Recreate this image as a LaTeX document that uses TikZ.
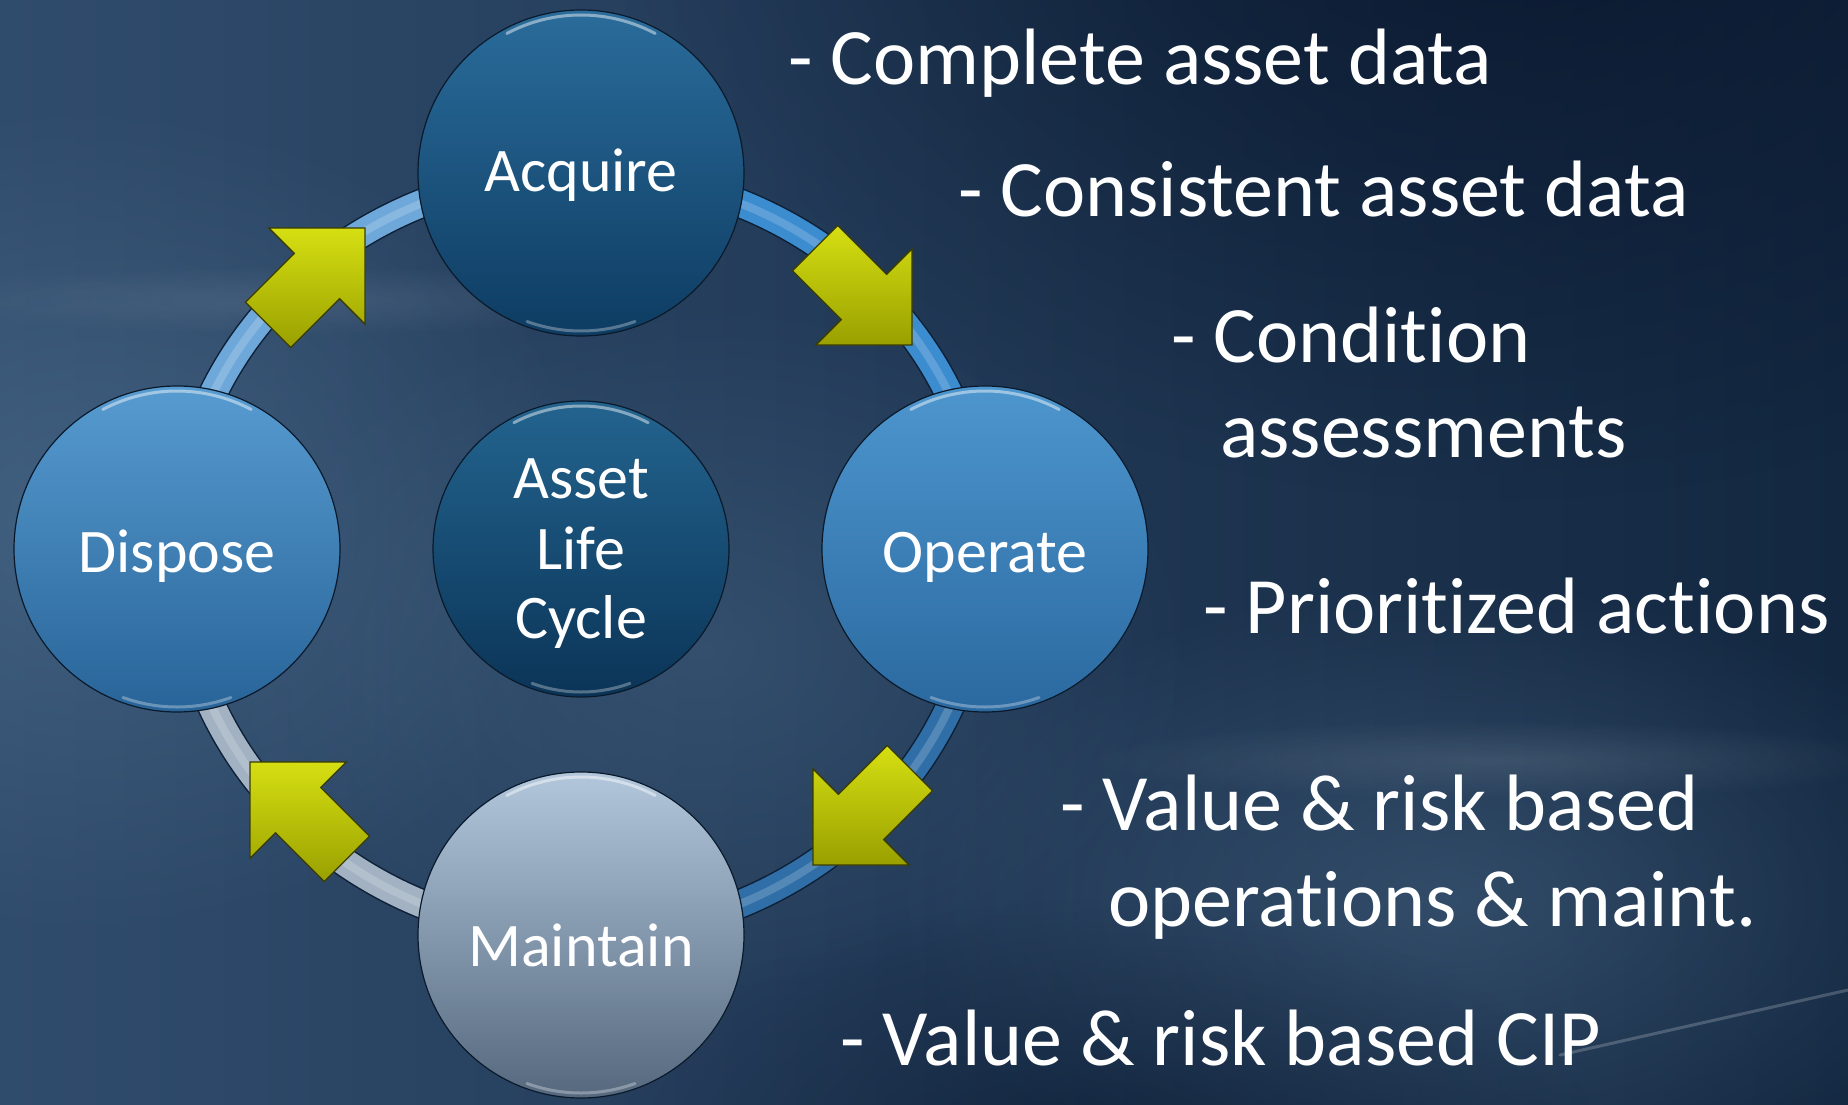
\documentclass[tikz,border=0pt]{standalone}
\usepackage{fontspec}
\setmainfont[Ligatures=NoCommon]{Carlito}
\usetikzlibrary{fadings}
\tikzfading[name=glowfade, inner color=transparent!0, outer color=transparent!100]
\pgfdeclarelayer{ringlayer}
\pgfdeclarelayer{bglayer}
\pgfsetlayers{bglayer,ringlayer,main}
\definecolor{bgL}{HTML}{304C6D}
\definecolor{bgR}{HTML}{132740}
\definecolor{bgDark}{HTML}{07142A}
\definecolor{bgLight}{HTML}{50708F}
\definecolor{rimc}{HTML}{0A1A2B}
\definecolor{acqTop}{HTML}{2A6C9B}
\definecolor{acqBot}{HTML}{0E3C62}
\definecolor{opeTop}{HTML}{4E96CE}
\definecolor{opeBot}{HTML}{2A69A0}
\definecolor{ctrTop}{HTML}{23648F}
\definecolor{ctrBot}{HTML}{0B3457}
\definecolor{maiTop}{HTML}{B2C7DC}
\definecolor{maiBot}{HTML}{55687E}
\definecolor{ringUR}{HTML}{3C8CD0}
\definecolor{ringLR}{HTML}{2F6EA7}
\definecolor{ringLL}{HTML}{A2B2C3}
\definecolor{ringUL}{HTML}{6EA8DA}
\definecolor{ringEdge}{HTML}{0D2036}
\definecolor{arrA}{HTML}{D6DF12}
\definecolor{arrB}{HTML}{99A000}
\definecolor{arrEdge}{HTML}{3A3C00}
\begin{document}
\begin{tikzpicture}[x=1pt,y=-1pt,
  bubble/.style={circle, minimum size=326pt, inner sep=0pt, draw=rimc, line width=1.2pt},
  lbl/.style={text=white, font=\fontsize{62}{74}\selectfont, anchor=base, inner sep=0pt},
  note/.style={text=white, font=\fontsize{80}{96}\selectfont, anchor=base west, inner sep=0pt},
  ringedge/.style={draw=ringEdge, line width=30pt},
  ringband/.style={line width=27pt},
  ringshine/.style={draw=white, line width=8pt, opacity=0.18},
  blockarrow/.style={top color=arrA, bottom color=arrB, draw=arrEdge, line width=1.3pt, line join=miter},
  gloss/.style={draw=white, line width=3pt, opacity=0.45, line cap=round},
  streak/.style={draw=white, line cap=round},
  glow/.style={path fading=glowfade}
]
\begin{pgfonlayer}{bglayer}
\useasboundingbox (0,0) rectangle (1848,1105);
\begin{scope}
\clip (0,0) rectangle (1848,1105);
\shade[left color=bgL, right color=bgR] (0,0) rectangle (1848,1105);
\fill[bgDark, glow, fill opacity=0.85] (1500,-150) ellipse (900pt and 650pt);
\fill[bgLight, glow, fill opacity=0.55] (80,520) ellipse (520pt and 420pt);
\fill[bgLight, glow, fill opacity=0.45] (1450,900) ellipse (560pt and 320pt);
\fill[bgLight, glow, fill opacity=0.35] (700,650) ellipse (500pt and 350pt);
\fill[bgDark, glow, fill opacity=0.5] (1100,1150) ellipse (500pt and 250pt);
\fill[white, glow, fill opacity=0.10] (1500,760) ellipse (420pt and 40pt);
\fill[white, glow, fill opacity=0.08] (300,300) ellipse (400pt and 35pt);
\draw[streak, line width=3pt, opacity=0.2] (1560,1055) -- (1848,990);
\end{scope}
\end{pgfonlayer}

% circle nodes
\node[bubble, top color=acqTop, bottom color=acqBot] (acq) at (581,173) {};
\node[bubble, top color=opeTop, bottom color=opeBot] (ope) at (985,549) {};
\node[bubble, top color=opeTop!95!white, bottom color=opeBot!95!black] (dis) at (177,549) {};
\node[bubble, top color=maiTop, bottom color=maiBot] (mai) at (581,935) {};
\node[bubble, minimum size=296pt, top color=ctrTop, bottom color=ctrBot] (ctr) at (581,549) {};

% ring (behind circles)
\begin{pgfonlayer}{ringlayer}
\draw[ringedge] (acq.center) arc[start angle=90, end angle=0, x radius=404pt, y radius=376pt];
\draw[ringedge] (ope.center) arc[start angle=0, end angle=-90, x radius=404pt, y radius=386pt];
\draw[ringedge] (mai.center) arc[start angle=-90, end angle=-180, x radius=404pt, y radius=386pt];
\draw[ringedge] (dis.center) arc[start angle=180, end angle=90, x radius=404pt, y radius=376pt];
\draw[ringband, draw=ringUR] (acq.center) arc[start angle=90, end angle=0, x radius=404pt, y radius=376pt];
\draw[ringband, draw=ringLR] (ope.center) arc[start angle=0, end angle=-90, x radius=404pt, y radius=386pt];
\draw[ringband, draw=ringLL] (mai.center) arc[start angle=-90, end angle=-180, x radius=404pt, y radius=386pt];
\draw[ringband, draw=ringUL] (dis.center) arc[start angle=180, end angle=90, x radius=404pt, y radius=376pt];
\draw[ringshine] (acq.center) arc[start angle=90, end angle=0, x radius=404pt, y radius=376pt];
\draw[ringshine] (ope.center) arc[start angle=0, end angle=-90, x radius=404pt, y radius=386pt];
\draw[ringshine] (mai.center) arc[start angle=-90, end angle=-180, x radius=404pt, y radius=386pt];
\draw[ringshine] (dis.center) arc[start angle=180, end angle=90, x radius=404pt, y radius=376pt];
\end{pgfonlayer}

% glossy rims
\foreach \n in {acq,ope,dis,mai} {
  \draw[gloss] ([shift={(62:158pt)}]\n.center) arc[start angle=62, end angle=118, radius=158pt];
  \draw[gloss, opacity=0.3] ([shift={(-70:158pt)}]\n.center) arc[start angle=-70, end angle=-110, radius=158pt];
}
\draw[gloss] ([shift={(62:143pt)}]ctr.center) arc[start angle=62, end angle=118, radius=143pt];
\draw[gloss, opacity=0.3] ([shift={(-70:143pt)}]ctr.center) arc[start angle=-70, end angle=-110, radius=143pt];

% block arrows
\foreach \tx/\ty/\ang in {912/345/-45, 813/865/-135, 250/762/135, 365/228/45} {
  \begin{scope}[shift={(\tx,\ty)}, rotate=\ang]
    \draw[blockarrow] (0,0) -- (-68,68) -- (-68,32) -- (-137,32) -- (-137,-32) -- (-68,-32) -- (-68,-68) -- cycle;
  \end{scope}
}

% circle labels
\node[lbl] (acqt) at (581,192) {Acquire};
\node[lbl] (opet) at (985,572) {Operate};
\node[lbl] (dist) at (177,572) {Dispose};
\node[lbl] (mait) at (581,966) {Maintain};
\node[lbl] (ctra) at (581,498) {Asset};
\node[lbl] (ctrb) at (581,569) {Life};
\node[lbl] (ctrc) at (581,638) {Cycle};

% notes
\node[note] (n1) at (788,85) {- Complete asset data};
\node[note] (n2) at (958,216) {- Consistent asset data};
\node[note] (n3) at (1171,362) {- Condition};
\node[note] (n3b) at (1220,457) {assessments};
\node[note] (n4) at (1203,633) {- Prioritized actions};
\node[note] (n5) at (1060,830) {- Value \& risk based};
\node[note] (n5b) at (1108,926) {operations \& maint.};
\node[note] (n6) at (840,1065) {- Value \& risk based CIP};
\end{tikzpicture}
\end{document}
